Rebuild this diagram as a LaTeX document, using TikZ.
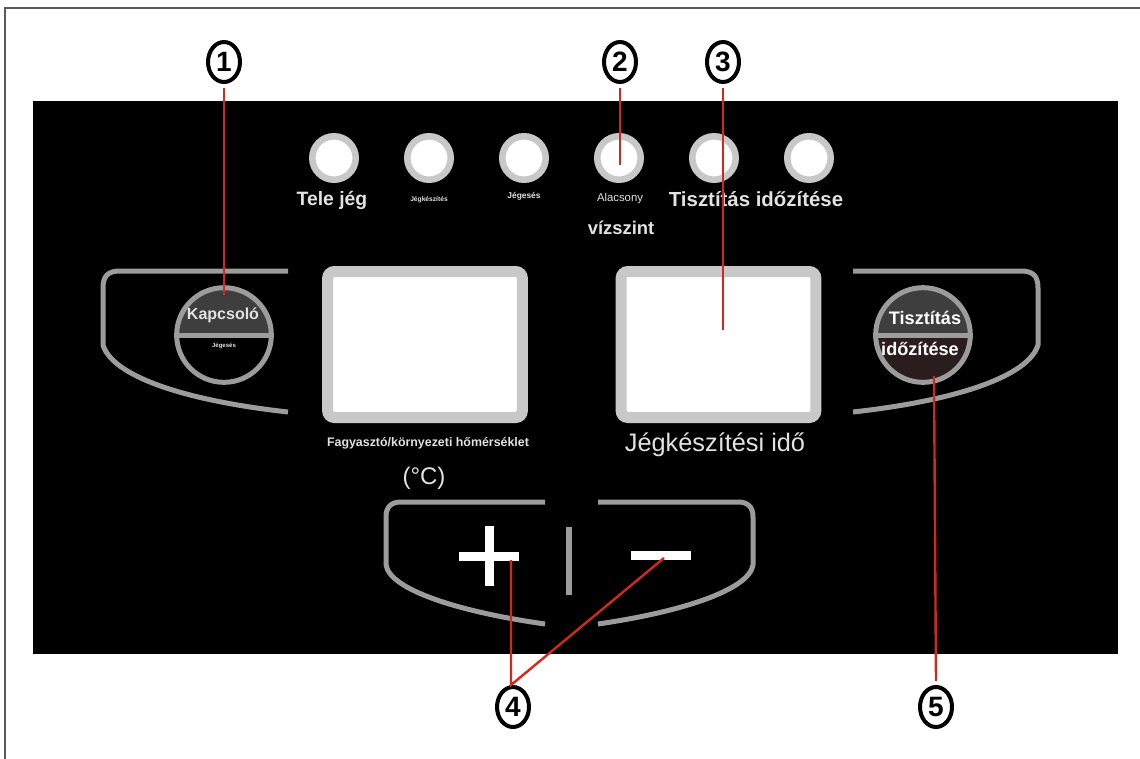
\documentclass[tikz,border=0pt]{standalone}
\usepackage{fontspec}
\setmainfont{Liberation Sans}
\setsansfont{Liberation Sans}
\usetikzlibrary{shapes.geometric, positioning, calc}
\definecolor{panelblack}{HTML}{000000}
\definecolor{rimgray}{HTML}{C8C8C8}
\definecolor{housegray}{HTML}{9C9C9C}
\definecolor{textlight}{HTML}{E2E2E2}
\definecolor{leaderred}{HTML}{D12A1C}
\definecolor{capdark}{HTML}{3E3E3E}
\definecolor{capbrown}{HTML}{2B1D1D}
\definecolor{framegray}{HTML}{5A5A5A}

\begin{document}
\begin{tikzpicture}[
    x=0.75pt, y=-0.75pt,
    every node/.style={font=\sffamily},
    lamp/.style={circle, fill=white, draw=rimgray, line width=4.9pt, minimum size=32.6pt, inner sep=0pt},
    screen/.style={rectangle, fill=white, draw=rimgray, line width=8.25pt, rounded corners=5pt,
                   minimum width=146pt, minimum height=109.5pt, inner sep=0pt},
    housing/.style={draw=housegray, line width=3.75pt},
    numbadge/.style={ellipse, draw=black, fill=white, line width=3pt, minimum width=24pt, minimum height=30pt,
                     inner sep=0pt, font=\sffamily\bfseries\fontsize{21}{21}\selectfont},
    leader/.style={draw=leaderred, line width=1.8pt},
]

\clip (0,0) rectangle (1140,758);

% Frame and panel
\draw[framegray, line width=1.5pt] (5,8) rectangle (1160,780);
\fill[panelblack] (33,101) rectangle (1118,654);

% === Indicator lamps ===
\node[lamp] (lamp1) at (334,158) {};
\node[lamp] (lamp2) at (429,158) {};
\node[lamp] (lamp3) at (524,158) {};
\node[lamp] (lamp4) at (619,158) {};
\node[lamp] (lamp5) at (714,158) {};
\node[lamp] (lamp6) at (809,158) {};

\node[text=textlight, font=\sffamily\bfseries\fontsize{14.5}{18}\selectfont] at (332,200) {Tele jég};
\node[text=textlight, font=\sffamily\bfseries\fontsize{5}{6}\selectfont] at (429,200) {Jégkészítés};
\node[text=textlight, font=\sffamily\bfseries\fontsize{6.3}{7}\selectfont] at (524,196) {Jégesés};
\node[text=textlight, font=\sffamily\fontsize{8.5}{10}\selectfont] at (620,199) {Alacsony};
\node[text=textlight, font=\sffamily\bfseries\fontsize{13.8}{16}\selectfont] at (621,228) {vízszint};
\node[text=textlight, font=\sffamily\bfseries\fontsize{15.3}{18}\selectfont] at (756,199) {Tisztítás időzítése};

% === Side housings ===
\draw[housing] (288,271) -- (120,271) .. controls (108,271) and (103,276) .. (103,288) -- (103,345)
    .. controls (112,375) and (180,400) .. (288,412);
\draw[housing] (853,271) -- (1021,271) .. controls (1033,271) and (1038,276) .. (1038,288) -- (1038,345)
    .. controls (1029,375) and (961,400) .. (853,412);

% === Power key ===
\node[circle, draw=housegray, line width=3.75pt, minimum size=71pt, inner sep=0pt,
      path picture={\fill[capdark] (path picture bounding box.north west) rectangle (path picture bounding box.east);}]
      (kapcsolo) at (224,335) {};
\draw[housegray, line width=3.75pt] (kapcsolo.west) -- (kapcsolo.east);
\node[text=textlight, font=\sffamily\bfseries\fontsize{12}{14}\selectfont] at (223,315) {Kapcsoló};
\node[text=textlight, font=\sffamily\bfseries\fontsize{4.5}{5}\selectfont] at (224,346) {Jégesés};

% === Cleaning timer key ===
\node[circle, draw=housegray, line width=3.75pt, minimum size=71pt, inner sep=0pt,
      path picture={\fill[capbrown] (path picture bounding box.north west) rectangle (path picture bounding box.south east);
                    \fill[capdark] (path picture bounding box.north west) rectangle (path picture bounding box.east);}]
      (tisztitas) at (923,335) {};
\draw[housegray, line width=3.75pt] (tisztitas.west) -- (tisztitas.east);
\node[text=white, font=\sffamily\bfseries\fontsize{13.6}{15}\selectfont] at (925,318) {Tisztítás};
\node[text=white, font=\sffamily\bfseries\fontsize{13.6}{15}\selectfont] at (920,349) {időzítése};

% === Displays ===
\node[screen] (tempdisp) at (425,344.5) {};
\node[screen] (timedisp) at (718.5,344.5) {};
\node[text=textlight, font=\sffamily\bfseries\fontsize{9.3}{11}\selectfont] at (428,443) {Fagyasztó/környezeti hőmérséklet};
\node[text=textlight, font=\sffamily\fontsize{18}{20}\selectfont] at (424,478) {(°C)};
\node[text=textlight, font=\sffamily\fontsize{19}{22}\selectfont] at (715,445) {Jégkészítési idő};

% === Plus / minus keys ===
\draw[housing] (545,502) -- (401,502) .. controls (391,502) and (386,507) .. (386,517) -- (386,565)
    .. controls (390,590) and (460,612) .. (545,624);
\draw[housing] (598,502) -- (738,502) .. controls (748,502) and (753,507) .. (753,517) -- (753,565)
    .. controls (749,590) and (681,612) .. (598,624);
\draw[housegray, line width=5pt] (569,527) -- (569,595);
\draw[white, line width=6.75pt] (459,556) -- (519,556);
\draw[white, line width=6.75pt] (489,526) -- (489,586);
\draw[white, line width=6.75pt] (631,555) -- (691,555);

% Leader targets
\coordinate (kapcsolotop) at (224,295);
\coordinate (lampmid) at (620,165);
\coordinate (dispmid) at (723,330);
\coordinate (plusend) at (511,560);
\coordinate (minusend) at (664,558);
\coordinate (tisztitasbot) at (934,376);
\coordinate (fork) at (511,685);

% === Callout numbers ===
\node[numbadge] (n1) at (224,62) {1};
\node[numbadge] (n2) at (620,62) {2};
\node[numbadge] (n3) at (723,62) {3};
\node[numbadge] (n4) at (513,707) {4};
\node[numbadge] (n5) at (936,707) {5};

\draw[leader] (n1.south) ++(0,4) -- (kapcsolotop);
\draw[leader] (n2.south) ++(0,4) -- (lampmid);
\draw[leader] (n3.south) ++(0,4) -- (dispmid);
\draw[leader] (plusend) -- (fork) -- (minusend);
\draw[leader] (n5.north) ++(0,-4) -- (tisztitasbot);

\end{tikzpicture}
\end{document}
